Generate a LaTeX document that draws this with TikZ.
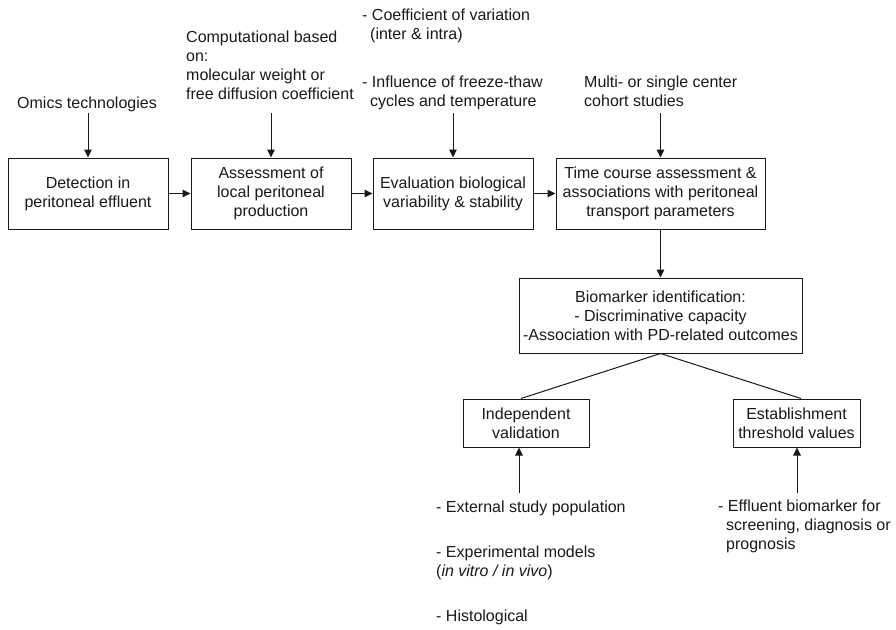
\documentclass[tikz,border=0pt]{standalone}
\usepackage{fontspec}
\setmainfont{Liberation Sans}
\usetikzlibrary{arrows.meta,calc}
\begin{document}
\begin{tikzpicture}[x=1pt,y=-1pt,
  every node/.style={font=\fontsize{16}{19}\selectfont, text=black!90},
  box/.style={draw=black!90,line width=1pt,align=center,inner sep=0pt},
  lbl/.style={align=left,inner sep=0pt,anchor=base west},
  arr/.style={draw=black!90,line width=1pt,-{Triangle[length=8pt,width=7.5pt]}},
  ln/.style={draw=black!90,line width=1pt}]
\useasboundingbox (0,0) rectangle (896,629);
% main row
\node[box,minimum width=160pt,minimum height=71pt] (b1) at (88,193.5) {Detection in\\peritoneal effluent};
\node[box,minimum width=160pt,minimum height=71pt] (b2) at (271,193.5) {Assessment of\\local peritoneal\\production};
\node[box,minimum width=160pt,minimum height=71pt] (b3) at (453,193.5) {Evaluation biological\\variability \& stability};
\node[box,minimum width=209pt,minimum height=71pt] (b4) at (660.5,193.5) {Time course assessment \&\\associations with peritoneal\\transport parameters};
\node[box,minimum width=283pt,minimum height=75pt] (bio) at (660.5,315.5) {Biomarker identification:\\- Discriminative capacity\\-Association with PD-related outcomes};
\node[box,minimum width=126pt,minimum height=48pt] (indep) at (526,423) {Independent\\validation};
\node[box,minimum width=127pt,minimum height=48pt] (estab) at (796.5,423) {Establishment\\threshold values};
% labels (base anchor = baseline of last line)
\node[lbl,anchor=base] (omics) at (87,108) {Omics technologies};
\node[lbl] (comp) at (186,99.5) {Computational based\\on:\\molecular weight or\\free diffusion coefficient};
\node[lbl] (coef) at (362,39) {- Coefficient of variation\\\hspace*{8pt}(inter \& intra)};
\node[lbl] (infl) at (362,106) {- Influence of freeze-thaw\\\hspace*{8pt}cycles and temperature};
\node[lbl] (multi) at (584,106) {Multi- or single center\\cohort studies};
\node[lbl] (ext) at (436,512) {- External study population};
\node[lbl] (expm) at (436,576) {- Experimental models\\(\textit{in vitro / in vivo})};
\node[lbl] (hist) at (436,621) {- Histological};
\node[lbl] (eff) at (718,549.5) {- Effluent biomarker for\\\hspace*{8pt}screening, diagnosis or\\\hspace*{8pt}prognosis};
% connectors
\coordinate (s1) at (88,113);
\coordinate (s2) at (271,113);
\coordinate (s3) at (453,113);
\coordinate (s4) at (660.5,113);
\draw[arr] (s1) -- (s1 |- b1.north);
\draw[arr] (s2) -- (s2 |- b2.north);
\draw[arr] (s3) -- (s3 |- b3.north);
\draw[arr] (s4) -- (s4 |- b4.north);
\draw[arr] (b1) -- (b2);
\draw[arr] (b2) -- (b3);
\draw[arr] (b3) -- (b4);
\draw[arr] (b4.south) -- (bio.north);
\draw[ln] (bio.south) -- ($(indep.north)+(-5,0)$);
\draw[ln] (bio.south) -- ($(estab.north)+(4.5,0)$);
\coordinate (s5) at (519,493);
\coordinate (s6) at (797,493);
\draw[arr] (s5) -- (s5 |- indep.south);
\draw[arr] (s6) -- (s6 |- estab.south);
\end{tikzpicture}
\end{document}
